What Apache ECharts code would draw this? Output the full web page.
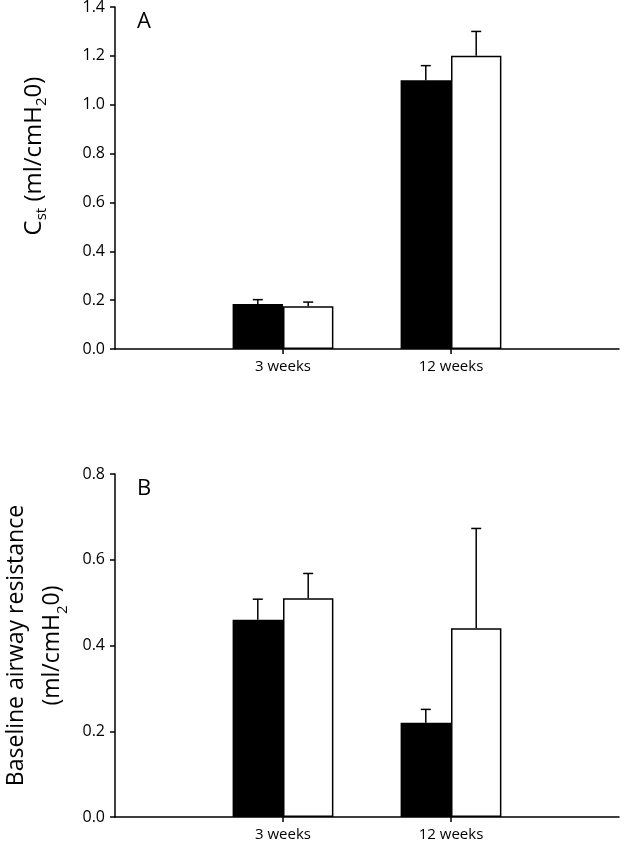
<!DOCTYPE html>
<html>
<head>
<meta charset="utf-8">
<script src="https://cdn.jsdelivr.net/npm/echarts@6/dist/echarts.min.js"></script>
<style>
html,body{margin:0;padding:0;background:#fff;}
#chart{width:624px;height:848px;}
</style>
</head>
<body>
<div id="chart"></div>
<script>
// ---- data ----
var categories = ['3 weeks', '12 weeks'];
// Panel A: static compliance (ml/cmH2O)
var cstBlack = [0.184, 1.10];
var cstBlackErr = [0.018, 0.06];
var cstWhite = [0.175, 1.20];
var cstWhiteErr = [0.017, 0.10];
var cstTicks = [0, 0.2, 0.4, 0.6, 0.8, 1.0, 1.2, 1.4];
// Panel B: baseline airway resistance
var rawBlack = [0.460, 0.220];
var rawBlackErr = [0.048, 0.031];
var rawWhite = [0.510, 0.440];
var rawWhiteErr = [0.058, 0.233];
var rawTicks = [0, 0.2, 0.4, 0.6, 0.8];

var FONT = '"Open Sans", "Liberation Sans", sans-serif';
var axisCats = [''].concat(categories, ['']);

function barData(vals) {
  return vals.map(function (v, i) { return [i + 1, v]; });
}
function errData(vals, errs) {
  return vals.map(function (v, i) { return [i + 1, v, v + errs[i]]; });
}
function errSeries(gi, vals, errs, side) {
  return {
    type: 'custom',
    xAxisIndex: gi, yAxisIndex: gi,
    z: 1,
    data: errData(vals, errs),
    renderItem: function (params, api) {
      var band = api.size([1, 0])[0];
      var off = side * band * 0.15;
      var p0 = api.coord([api.value(0), api.value(1)]);
      var p1 = api.coord([api.value(0), api.value(2)]);
      var x = p0[0] + off;
      return {
        type: 'group',
        children: [
          { type: 'line', shape: { x1: x, y1: p0[1], x2: x, y2: p1[1] }, style: { stroke: '#000', lineWidth: 1.5 } },
          { type: 'line', shape: { x1: x - 5, y1: p1[1], x2: x + 5, y2: p1[1] }, style: { stroke: '#000', lineWidth: 1.5 } }
        ]
      };
    }
  };
}

function xAxis(gi) {
  return {
    type: 'category', gridIndex: gi, data: axisCats, boundaryGap: false,
    axisLine: { lineStyle: { color: '#000', width: 1.5 } },
    axisTick: { length: 5, lineStyle: { color: '#000', width: 1.5 },
      interval: function (i) { return i === 1 || i === 2; } },
    axisLabel: { color: '#000', fontFamily: FONT, fontSize: 15, margin: 10,
      interval: 0 },
    splitLine: { show: false }
  };
}
function yAxis(gi, ticks, nameCfg) {
  var o = {
    type: 'value', gridIndex: gi,
    min: ticks[0], max: ticks[ticks.length - 1], interval: ticks[1] - ticks[0],
    axisLine: { show: true, lineStyle: { color: '#000', width: 1.5 } },
    axisTick: { show: true, length: 5, lineStyle: { color: '#000', width: 1.5 } },
    axisLabel: { color: '#000', fontFamily: FONT, fontSize: 16, margin: 10,
      formatter: function (v) { return v.toFixed(1); } },
    splitLine: { show: false }
  };
  for (var k in nameCfg) o[k] = nameCfg[k];
  return o;
}

function richName(size, sub, lh) {
  return {
    a: { fontSize: size, fontFamily: FONT, color: '#000', lineHeight: lh },
    s: { fontSize: sub, fontFamily: FONT, color: '#000', lineHeight: lh, verticalAlign: 'bottom', padding: [12, 0, 0, 0] }
  };
}

var chart = echarts.init(document.getElementById('chart'), null, { renderer: 'canvas' });
chart.setOption({
  animation: false,
  backgroundColor: '#fff',
  grid: [
    { left: 115, top: 7, width: 504, height: 342, containLabel: false, outerBoundsMode: 'none' },
    { left: 115, top: 474, width: 504, height: 343, containLabel: false, outerBoundsMode: 'none' }
  ],
  xAxis: [xAxis(0), xAxis(1)],
  yAxis: [
    yAxis(0, cstTicks, {
      name: '{a|C}{s|st}{a| (ml/cmH}{s|2}{a|0)}',
      nameLocation: 'middle', nameRotate: 90, nameGap: 66,
      nameTextStyle: { rich: richName(24, 15, 30), padding: [0, 0, 0, 44] }
    }),
    yAxis(1, rawTicks, {
      name: '{a|Baseline airway resistance}\n{a|(ml/cmH}{s|2}{a|0)}',
      nameLocation: 'middle', nameRotate: 90, nameGap: 45,
      nameTextStyle: { rich: richName(23, 15, 36) }
    })
  ],
  graphic: [
    { type: 'text', left: 137, top: 11, style: { text: 'A', fontSize: 22, fontFamily: FONT, fill: '#000' } },
    { type: 'text', left: 137, top: 478, style: { text: 'B', fontSize: 22, fontFamily: FONT, fill: '#000' } }
  ],
  series: [
    { type: 'bar', xAxisIndex: 0, yAxisIndex: 0, data: barData(cstBlack), barWidth: '30%', barGap: '0%',
      itemStyle: { color: '#000', borderColor: '#000', borderWidth: 1.5 } },
    { type: 'bar', xAxisIndex: 0, yAxisIndex: 0, data: barData(cstWhite), barWidth: '30%', barGap: '0%',
      itemStyle: { color: '#fff', borderColor: '#000', borderWidth: 1.5 } },
    errSeries(0, cstBlack, cstBlackErr, -1),
    errSeries(0, cstWhite, cstWhiteErr, 1),
    { type: 'bar', xAxisIndex: 1, yAxisIndex: 1, data: barData(rawBlack), barWidth: '30%', barGap: '0%',
      itemStyle: { color: '#000', borderColor: '#000', borderWidth: 1.5 } },
    { type: 'bar', xAxisIndex: 1, yAxisIndex: 1, data: barData(rawWhite), barWidth: '30%', barGap: '0%',
      itemStyle: { color: '#fff', borderColor: '#000', borderWidth: 1.5 } },
    errSeries(1, rawBlack, rawBlackErr, -1),
    errSeries(1, rawWhite, rawWhiteErr, 1)
  ]
});
</script>
</body>
</html>
